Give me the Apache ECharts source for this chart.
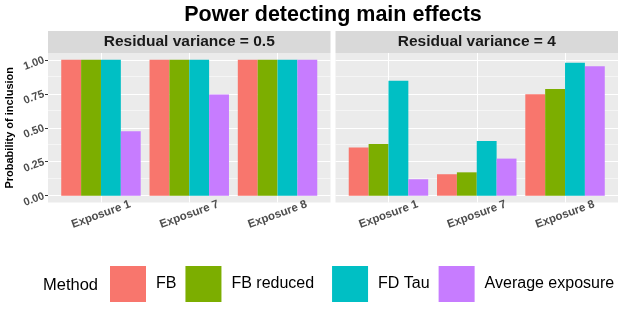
<!DOCTYPE html>
<html><head><meta charset="utf-8">
<script src="https://cdn.jsdelivr.net/npm/echarts@6/dist/echarts.min.js"></script>
<style>html,body{margin:0;padding:0;background:#fff}#c{width:623px;height:312px}</style>
</head><body><div id="c"></div>
<script>
const categories = ['Exposure 1', 'Exposure 7', 'Exposure 8'];
const methods = ['FB', 'FB reduced', 'FD Tau', 'Average exposure'];
const panels = ['Residual variance = 0.5', 'Residual variance = 4'];
const yTicks = [0, 0.25, 0.5, 0.75, 1];
const yMinor = [0.125, 0.375, 0.625, 0.875];
// Residual variance = 0.5
const v05_FB = [1.00, 1.00, 1.00];
const v05_FBreduced = [1.00, 1.00, 1.00];
const v05_FDTau = [1.00, 1.00, 1.00];
const v05_Avg = [0.475, 0.745, 1.00];
// Residual variance = 4
const v4_FB = [0.355, 0.158, 0.747];
const v4_FBreduced = [0.380, 0.172, 0.786];
const v4_FDTau = [0.845, 0.403, 0.978];
const v4_Avg = [0.121, 0.273, 0.953];
const colors = ['#F8766D', '#7CAE00', '#00BFC4', '#C77CFF'];

const panelValues = [
  [v05_FB, v05_FBreduced, v05_FDTau, v05_Avg],
  [v4_FB, v4_FBreduced, v4_FDTau, v4_Avg]
];
const FONT = '"Liberation Sans", Arial, Helvetica, sans-serif';
const catPos = categories.map((c, i) => i + 1);

const panelBoxes = [
  {left: 48, width: 282.5},
  {left: 335.5, width: 282.5}
];
const TOP = 53, HEIGHT = 149.5;

const grids = [], xAxes = [], yAxes = [], series = [], graphics = [];
panelBoxes.forEach((p, k) => {
  grids.push({left: p.left, top: TOP, width: p.width, height: HEIGHT,
    show: true, backgroundColor: '#EBEBEB', borderWidth: 0, containLabel: false});
  xAxes.push({gridIndex: k, type: 'value', min: 0.4, max: 3.6,
    axisLine: {show: false},
    splitLine: {show: false},
    axisTick: {show: true, customValues: catPos, length: 3, lineStyle: {color: '#333333', width: 1}},
    axisLabel: {show: true, customValues: catPos, rotate: 20, align: 'center', verticalAlign: 'middle',
      margin: 12, color: '#4D4D4D', fontWeight: 'bold', fontSize: 11.5, fontFamily: FONT,
      formatter: v => categories[Math.round(v) - 1] || ''}
  });
  yAxes.push({gridIndex: k, type: 'value', min: -0.05, max: 1.05,
    axisLine: {show: false},
    splitLine: {show: false},
    axisTick: {show: k === 0, customValues: yTicks, length: 3, lineStyle: {color: '#333333', width: 1}},
    axisLabel: {show: k === 0, customValues: yTicks, rotate: 20, margin: 4,
      color: '#4D4D4D', fontWeight: 'bold', fontSize: 11, fontFamily: FONT,
      formatter: v => v.toFixed(2)},
    name: k === 0 ? 'Probability of inclusion' : '',
    nameLocation: 'middle', nameRotate: 90, nameGap: 33,
    nameTextStyle: {color: '#000', fontWeight: 'bold', fontSize: 11, fontFamily: FONT}
  });
  // gridlines
  series.push({type: 'line', name: '_grid' + k, xAxisIndex: k, yAxisIndex: k, data: [], z: 1,
    silent: true,
    markLine: {silent: true, symbol: ['none', 'none'], label: {show: false}, animation: false, z: 1,
      emphasis: {disabled: true},
      data: [
        ...yMinor.map(v => ({yAxis: v, lineStyle: {color: '#FFFFFF', width: 0.5, type: 'solid', opacity: 1}})),
        ...yTicks.map(v => ({yAxis: v, lineStyle: {color: '#FFFFFF', width: 1.1, type: 'solid', opacity: 1}})),
        ...catPos.map(v => ({xAxis: v, lineStyle: {color: '#FFFFFF', width: 1.1, type: 'solid', opacity: 1}}))
      ]}
  });
  methods.forEach((m, j) => {
    series.push({type: 'bar', name: m, xAxisIndex: k, yAxisIndex: k, z: 2,
      barGap: '0%', barCategoryGap: '10%',
      itemStyle: {color: colors[j]},
      emphasis: {disabled: true},
      data: panelValues[k][j].map((v, i) => [catPos[i], v])
    });
  });
  // strip
  graphics.push({type: 'rect', shape: {x: p.left, y: 31, width: p.width, height: 22},
    style: {fill: '#D9D9D9'}, silent: true});
  graphics.push({type: 'text', x: p.left + p.width / 2, y: 42,
    style: {text: panels[k], fill: '#1A1A1A', font: 'bold 15.5px ' + FONT, align: 'center', verticalAlign: 'middle'}});
});

const chart = echarts.init(document.getElementById('c'), null, {renderer: 'canvas'});
chart.setOption({
  animation: false,
  backgroundColor: '#FFFFFF',
  color: colors,
  title: [
    {text: 'Power detecting main effects', left: 333, top: 4, textAlign: 'center', padding: 0,
      textStyle: {fontSize: 21.5, fontWeight: 'bold', color: '#000', fontFamily: FONT}},
    {text: 'Method', left: 43, top: 277, padding: 0,
      textStyle: {fontSize: 16.5, fontWeight: 'normal', color: '#000', fontFamily: FONT}}
  ],
  grid: grids, xAxis: xAxes, yAxis: yAxes, series: series,
  legend: {data: methods, left: 110, top: 266, padding: 0, itemWidth: 36, itemHeight: 36, itemGap: 9,
    icon: 'rect', selectedMode: false,
    formatter: n => n === 'FB reduced' ? n + '\u00A0\u00A0' : n,
    textStyle: {fontSize: 16, color: '#000', fontFamily: FONT, padding: [0, 0, 0, 5]}},
  graphic: graphics
});
</script></body></html>
